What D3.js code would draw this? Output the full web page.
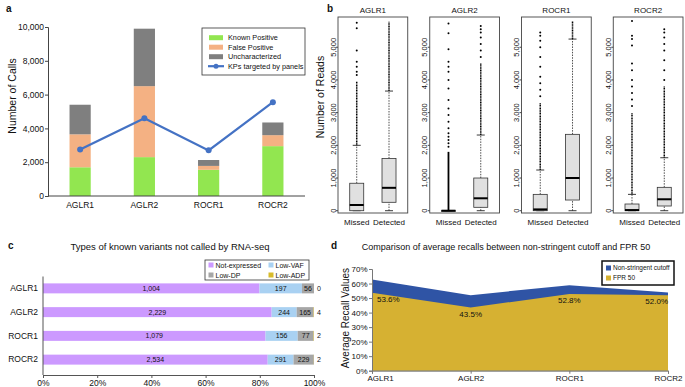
<!DOCTYPE html>
<html>
<head>
<meta charset="utf-8">
<script src="https://cdn.jsdelivr.net/npm/d3@7"></script>
<style>
  body { margin: 0; background: #fff; }
  text { font-family: "Liberation Sans", Arial, sans-serif; fill: #111; }
</style>
</head>
<body>
<div id="chart"></div>
<script>
// ---- data ----
// panel a: calls per panel
const callCats = ["AGLR1", "AGLR2", "ROCR1", "ROCR2"];
const knownPositive = [1700, 2300, 1550, 2950];
const falsePositive = [1950, 4200, 230, 650];
const uncharacterized = [1750, 3400, 350, 750];
const kpTargeted = [2750, 4600, 2700, 5550];
const callTicks = [0, 2000, 4000, 6000, 8000, 10000];

// panel b: read depth boxplots, [whisker low, q1, median, q3, whisker high]
const readPanels = ["AGLR1", "AGLR2", "ROCR1", "ROCR2"];
const readGroups = ["Missed", "Detected"];
const readBoxes = [
  [[0, 0, 175, 840, 2000], [0, 257, 700, 1600, 3660]],
  [[0, 0, 0, 0, 0], [0, 104, 380, 1000, 2315]],
  [[0, 0, 40, 500, 1245], [0, 327, 1000, 2336, 5250]],
  [[0, 0, 20, 205, 500], [0, 144, 350, 715, 1620]]
];
// dense runs of outliers [from, to] and single outliers
const readDense = [
  [[2000, 3950], [3660, 5780]],
  [[0, 1800], [2315, 4500]],
  [[1245, 3300], [5250, 5800]],
  [[500, 3000], [1620, 3800]]
];
const readSparse = [
  [[4150, 4250, 4400, 4560, 4900, 5580, 5750], []],
  [[1960, 2060, 2160, 2260, 2370, 2520, 2720, 2930, 3130, 3390, 3740, 4000, 4250, 4400, 4560, 4940, 5430, 5730],
   [4700, 4900, 5100, 5300, 5450, 5550, 5650]],
  [[3500, 3700, 3900, 4100, 4400, 4700, 5000, 5200, 5350, 5450], []],
  [[3200, 3400, 3600, 3800, 4000, 4300, 4500, 5050, 5250, 5350, 5800],
   [4000, 4300, 4600, 4900, 5100, 5300, 5450, 5550]]
];
const readTicks = [0, 1000, 2000, 3000, 4000, 5000];

// panel c: known variants not called
const variantCats = ["AGLR1", "AGLR2", "ROCR1", "ROCR2"];
const notExpressed = [1004, 2229, 1079, 2534];
const lowVAF = [197, 244, 156, 291];
const lowDP = [56, 165, 77, 229];
const lowADP = [0, 4, 2, 2];
const pctTicks = [0, 0.2, 0.4, 0.6, 0.8, 1];

// panel d: average recalls
const recallCats = ["AGLR1", "AGLR2", "ROCR1", "ROCR2"];
const nonStringent = [62.8, 52.0, 58.9, 53.8];
const fpr50 = [53.6, 43.5, 52.8, 52.0];
const recallTicks = [0, 10, 20, 30, 40, 50, 60, 70];

const svg = d3.select("#chart")
  .append("svg")
  .attr("width", 685)
  .attr("height", 387);

// panel letters
svg.selectAll("text.letter")
  .data([["a", 6, 12], ["b", 327, 12], ["c", 8, 249], ["d", 331, 249]])
  .join("text")
  .attr("x", d => d[1])
  .attr("y", d => d[2])
  .style("font-size", "10px")
  .style("font-weight", "bold")
  .text(d => d[0]);

// ================= panel a =================
const aColors = {kp: "#92e650", fp: "#f4b183", un: "#7f7f7f"};
const aRows = callCats.map((c, i) => ({cat: c, kp: knownPositive[i], fp: falsePositive[i], un: uncharacterized[i]}));
const aStack = d3.stack().keys(["kp", "fp", "un"])(aRows);

const ax = d3.scaleBand().domain(callCats).range([48, 305]).paddingInner(0.67).paddingOuter(0.335);
const ay = d3.scaleLinear().domain([0, 10000]).range([196, 27]);

svg.append("g")
  .selectAll("g")
  .data(aStack)
  .join("g")
  .attr("fill", d => aColors[d.key])
  .selectAll("rect")
  .data(d => d)
  .join("rect")
  .attr("x", d => ax(d.data.cat))
  .attr("y", d => ay(d[1]))
  .attr("width", ax.bandwidth())
  .attr("height", d => ay(d[0]) - ay(d[1]));

// y axis
const aYAxis = svg.append("g")
  .attr("transform", "translate(48,0)")
  .call(d3.axisLeft(ay).tickValues(callTicks).tickFormat(d3.format(",")).tickSize(3));
aYAxis.selectAll("text").style("font-size", "8.5px").attr("x", -4);
aYAxis.selectAll("line, path").attr("stroke", "#444");

// x axis
const aXAxis = svg.append("g")
  .attr("transform", "translate(0,196)")
  .call(d3.axisBottom(ax).tickSize(0).tickPadding(6));
aXAxis.select("path").attr("d", "M48,0H305").attr("stroke", "#444");
aXAxis.selectAll("text").style("font-size", "8.5px");

svg.append("text")
  .attr("transform", "translate(16,96) rotate(-90)")
  .attr("text-anchor", "middle")
  .style("font-size", "10.5px")
  .text("Number of Calls");

// KP line
const aLine = d3.line()
  .x((d, i) => ax(callCats[i]) + ax.bandwidth() / 2)
  .y(d => ay(d));
svg.append("path")
  .datum(kpTargeted)
  .attr("d", aLine)
  .attr("fill", "none")
  .attr("stroke", "#4472c4")
  .attr("stroke-width", 2.2);
svg.selectAll("circle.kp")
  .data(kpTargeted)
  .join("circle")
  .attr("cx", (d, i) => ax(callCats[i]) + ax.bandwidth() / 2)
  .attr("cy", d => ay(d))
  .attr("r", 3)
  .attr("fill", "#4472c4");

// legend
const aLeg = svg.append("g").attr("transform", "translate(202,28)");
aLeg.append("rect").attr("width", 103).attr("height", 47)
  .attr("fill", "#fff").attr("stroke", "#333").attr("stroke-width", 0.8);
const aLegItems = [["Known Positive", "kp"], ["False Positive", "fp"], ["Uncharacterized", "un"], ["KPs targeted by panels", "line"]];
aLegItems.forEach((it, i) => {
  const yy = 9.7 + i * 9.5;
  if (it[1] === "line") {
    aLeg.append("line").attr("x1", 6).attr("x2", 22).attr("y1", yy).attr("y2", yy)
      .attr("stroke", "#4472c4").attr("stroke-width", 2.2);
    aLeg.append("circle").attr("cx", 14).attr("cy", yy).attr("r", 2.5).attr("fill", "#4472c4");
  } else {
    aLeg.append("rect").attr("x", 7).attr("y", yy - 2.5).attr("width", 14).attr("height", 5)
      .attr("fill", aColors[it[1]]);
  }
  aLeg.append("text").attr("x", 26).attr("y", yy + 2.6).style("font-size", "7.3px").text(it[0]);
});

// ================= panel b =================
const bPanel = d3.scaleBand().domain(readPanels).range([338, 683]).paddingInner(0.24);
const bw = bPanel.bandwidth();
const by = d3.scaleLinear().domain([-70, 5925]).range([213, 17]);
const bx = d3.scaleLinear().domain([0.42, 2.58]).range([0, bw]);
const boxHalf = 7, capHalf = 4;

readPanels.forEach((p, pi) => {
  const g = svg.append("g").attr("transform", `translate(${bPanel(p)},0)`);

  g.append("rect")
    .attr("x", 0).attr("y", by(5925)).attr("width", bw).attr("height", by(-70) - by(5925))
    .attr("fill", "none").attr("stroke", "#444").attr("stroke-width", 0.9);

  g.append("text")
    .attr("x", bw / 2).attr("y", 13)
    .attr("text-anchor", "middle")
    .style("font-size", "8px")
    .text(p);

  // y ticks
  readTicks.forEach(t => {
    g.append("line").attr("x1", -2).attr("x2", 0).attr("y1", by(t)).attr("y2", by(t)).attr("stroke", "#444");
    g.append("text")
      .attr("transform", `translate(-2.5,${by(t)}) rotate(-90)`)
      .attr("text-anchor", "middle")
      .style("font-size", "7.5px")
      .text(d3.format(",")(t));
  });

  readGroups.forEach((grp, gi) => {
    const cx = bx(gi + 1);
    const [lo, q1, med, q3, hi] = readBoxes[pi][gi];

    // dense outlier runs
    const dn = readDense[pi][gi];
    g.append("line")
      .attr("x1", cx).attr("x2", cx).attr("y1", by(dn[0])).attr("y2", by(dn[1]))
      .attr("stroke", "#000")
      .attr("stroke-width", dn[0] === 0 ? 1.8 : 1.5)
      .attr("stroke-dasharray", dn[0] === 0 ? null : "1.1,0.5");
    // single outliers
    g.selectAll(null)
      .data(readSparse[pi][gi])
      .join("circle")
      .attr("cx", cx).attr("cy", d => by(d)).attr("r", 1)
      .attr("fill", "#000");

    // whiskers
    g.append("line").attr("x1", cx).attr("x2", cx).attr("y1", by(q3)).attr("y2", by(hi))
      .attr("stroke", "#222").attr("stroke-width", 0.8).attr("stroke-dasharray", "1.5,1.2");
    g.append("line").attr("x1", cx).attr("x2", cx).attr("y1", by(lo)).attr("y2", by(q1))
      .attr("stroke", "#222").attr("stroke-width", 0.8).attr("stroke-dasharray", "1.5,1.2");
    [lo, hi].forEach(v => {
      g.append("line").attr("x1", cx - capHalf).attr("x2", cx + capHalf).attr("y1", by(v)).attr("y2", by(v))
        .attr("stroke", "#222").attr("stroke-width", 0.9);
    });

    // box
    g.append("rect")
      .attr("x", cx - boxHalf).attr("y", by(q3)).attr("width", boxHalf * 2)
      .attr("height", Math.max(0.5, by(q1) - by(q3)))
      .attr("fill", "#e0e0e0").attr("stroke", "#333").attr("stroke-width", 0.8);
    g.append("line")
      .attr("x1", cx - boxHalf).attr("x2", cx + boxHalf).attr("y1", by(med)).attr("y2", by(med))
      .attr("stroke", "#000").attr("stroke-width", 2);

    g.append("text")
      .attr("x", cx).attr("y", 225)
      .attr("text-anchor", "middle")
      .style("font-size", "8px")
      .text(grp);
  });
});

svg.append("text")
  .attr("transform", "translate(324,97) rotate(-90)")
  .attr("text-anchor", "middle")
  .style("font-size", "10.5px")
  .text("Number of Reads");

// ================= panel c =================
const cKeys = ["ne", "vaf", "dp", "adp"];
const cColors = {ne: "#cc99ff", vaf: "#a9d1f2", dp: "#a6a6a6", adp: "#d8bb2c"};
const cNames = {ne: "Not-expressed", vaf: "Low-VAF", dp: "Low-DP", adp: "Low-ADP"};
const cRows = variantCats.map((c, i) => ({cat: c, ne: notExpressed[i], vaf: lowVAF[i], dp: lowDP[i], adp: lowADP[i]}));
const cStack = d3.stack().keys(cKeys).offset(d3.stackOffsetExpand)(cRows);

const cx = d3.scaleLinear().domain([0, 1]).range([43, 314]);
const cy = d3.scaleBand().domain(variantCats).range([276.5, 371.5]).paddingInner(0.58).paddingOuter(0.29);

svg.append("text")
  .attr("x", 170).attr("y", 250)
  .attr("text-anchor", "middle")
  .style("font-size", "9.5px")
  .text("Types of known variants not called by RNA-seq");

const cLayers = svg.append("g")
  .selectAll("g")
  .data(cStack)
  .join("g")
  .attr("fill", d => cColors[d.key]);
cLayers.selectAll("rect")
  .data(d => d)
  .join("rect")
  .attr("x", d => cx(d[0]))
  .attr("y", d => cy(d.data.cat))
  .attr("width", d => cx(d[1]) - cx(d[0]))
  .attr("height", cy.bandwidth());

// value labels
cStack.forEach(layer => {
  svg.append("g").selectAll("text")
    .data(layer)
    .join("text")
    .attr("x", d => layer.key === "adp" ? cx(1) + 3 : (cx(d[0]) + cx(d[1])) / 2)
    .attr("y", d => cy(d.data.cat) + cy.bandwidth() / 2 + 2.5)
    .attr("text-anchor", layer.key === "adp" ? "start" : "middle")
    .style("font-size", "7px")
    .text(d => d3.format(",")(d.data[layer.key]));
});

// axes
const cXAxis = svg.append("g")
  .attr("transform", "translate(0,375)")
  .call(d3.axisBottom(cx).tickValues(pctTicks).tickFormat(d3.format(".0%")).tickSize(3).tickPadding(2));
cXAxis.selectAll("text").style("font-size", "8.5px");
cXAxis.selectAll("line, path").attr("stroke", "#555");

const cYAxis = svg.append("g")
  .attr("transform", "translate(43,0)")
  .call(d3.axisLeft(cy).tickSize(0).tickPadding(5));
cYAxis.select("path").attr("d", "M0,276.5V375").attr("stroke", "#555");
cYAxis.selectAll("text").style("font-size", "8.5px");

// legend
const cLeg = svg.append("g").attr("transform", "translate(205,260)");
cLeg.append("rect").attr("width", 104).attr("height", 20)
  .attr("fill", "#fff").attr("stroke", "#333").attr("stroke-width", 0.8);
cKeys.forEach((k, i) => {
  const lx = 3.5 + (i % 2) * 60, ly = 5 + Math.floor(i / 2) * 10;
  cLeg.append("rect").attr("x", lx).attr("y", ly - 2.5).attr("width", 5).attr("height", 5).attr("fill", cColors[k]);
  cLeg.append("text").attr("x", lx + 7).attr("y", ly + 2.5).style("font-size", "7px").text(cNames[k]);
});

// ================= panel d =================
const dx = d3.scalePoint().domain(recallCats).range([372, 668]);
const dy = d3.scaleLinear().domain([0, 70]).range([370.7, 269]);

svg.append("text")
  .attr("x", 506).attr("y", 250)
  .attr("text-anchor", "middle")
  .style("font-size", "9px")
  .text("Comparison of average recalls between non-stringent cutoff and FPR 50");

const dArea = d3.area()
  .x((d, i) => dx(recallCats[i]))
  .y0(dy(0))
  .y1(d => dy(d));
svg.append("path").datum(nonStringent).attr("d", dArea).attr("fill", "#2f54a5");
svg.append("path").datum(fpr50).attr("d", dArea).attr("fill", "#d6b132");

svg.append("g").selectAll("text")
  .data(fpr50)
  .join("text")
  .attr("x", (d, i) => dx(recallCats[i]) + (i === 0 ? 5 : 0))
  .attr("y", d => dy(d) + 9)
  .attr("text-anchor", (d, i) => i === 0 ? "start" : (i === fpr50.length - 1 ? "end" : "middle"))
  .style("font-size", "8px")
  .text(d => d.toFixed(1) + "%");

const dYAxis = svg.append("g")
  .attr("transform", "translate(372,0)")
  .call(d3.axisLeft(dy).tickValues(recallTicks).tickFormat(d => d + "%").tickSize(3).tickPadding(1.5));
dYAxis.selectAll("text").style("font-size", "8px");
dYAxis.selectAll("line, path").attr("stroke", "#777");

const dXAxis = svg.append("g")
  .attr("transform", `translate(0,${dy(0)})`)
  .call(d3.axisBottom(dx).tickSize(3).tickPadding(2));
dXAxis.selectAll("line, path").attr("stroke", "#777");
dXAxis.selectAll("text")
  .style("font-size", "8px")
  .attr("text-anchor", (d, i) => i === 0 ? "start" : "middle")
  .attr("x", (d, i) => i === 0 ? -5 : 0);

svg.append("text")
  .attr("transform", "translate(349,318) rotate(-90)")
  .attr("text-anchor", "middle")
  .style("font-size", "10px")
  .text("Average Recall Values");

// legend
const dLeg = svg.append("g").attr("transform", "translate(602,261)");
dLeg.append("rect").attr("width", 72).attr("height", 24)
  .attr("fill", "#fff").attr("stroke", "#111").attr("stroke-width", 1.5);
[["Non-stringent cutoff", "#2f54a5"], ["FPR 50", "#d6b132"]].forEach((it, i) => {
  const ly = 7 + i * 10;
  dLeg.append("rect").attr("x", 4).attr("y", ly - 2.5).attr("width", 5).attr("height", 5).attr("fill", it[1]);
  dLeg.append("text").attr("x", 11).attr("y", ly + 2.3).style("font-size", "6.5px").text(it[0]);
});
</script>
</body>
</html>
